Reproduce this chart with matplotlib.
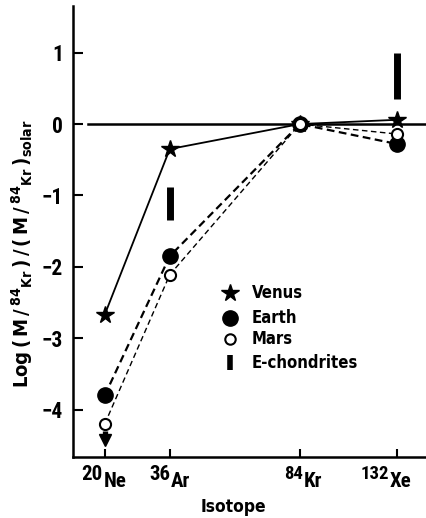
import matplotlib
matplotlib.use("Agg")
import matplotlib.pyplot as plt
from matplotlib.font_manager import FontProperties

TXT = FontProperties(family='DejaVu Sans', weight='bold', stretch='condensed')
TICK = FontProperties(family=['Roboto Condensed', 'DejaVu Sans'], weight='bold')
plt.rcParams['font.family'] = ['DejaVu Sans']
plt.rcParams['font.weight'] = 'bold'
plt.rcParams['font.stretch'] = 'condensed'
plt.rcParams['mathtext.fontset'] = 'custom'
plt.rcParams['mathtext.rm'] = 'DejaVu Sans:bold:condensed'
plt.rcParams['mathtext.bf'] = 'DejaVu Sans:bold:condensed'
plt.rcParams['mathtext.it'] = 'DejaVu Sans:bold:condensed'

# Data
mass_numbers = ['20', '36', '84', '132']
elements = ['Ne', 'Ar', 'Kr', 'Xe']
x_pos = [0, 1, 3, 4.5]
venus = [-2.67, -0.35, 0.0, 0.06]
earth = [-3.80, -1.85, 0.0, -0.28]
mars = [-4.20, -2.11, 0.0, -0.14]
mars_limit_ne = -4.42
echon_x = [1, 4.5]
echon_lo = [-1.34, 0.35]
echon_hi = [-0.88, 1.00]
y_ticks = [1, 0, -1, -2, -3, -4]
legend_labels = ['Venus', 'Earth', 'Mars', 'E-chondrites']

# label style (pixel offsets of split between mass number and element, rel. to tick)
split_px = [-2, 0.5, 3.5, -8.5]
num_size = [15, 15, 13.5, 13.5]

fig = plt.figure(figsize=(4.26, 5.18), dpi=100)
ax = fig.add_axes([0.171, 0.118, 0.829, 0.870])

ax.plot([-0.26, 4.94], [0, 0], color='black', lw=1.8, zorder=1)

ax.plot(x_pos, venus, '-', color='black', lw=1.3, zorder=2)
ax.plot(x_pos, earth, '--', color='black', lw=1.6, dashes=(3.5, 2), zorder=2)
ax.plot(x_pos, mars, '--', color='black', lw=1.0, dashes=(4, 2.5), zorder=2)

ax.plot(x_pos, venus, '*', color='black', ms=13, ls='none', zorder=4)
ax.plot(x_pos, earth, 'o', color='black', ms=11, ls='none', zorder=4)
ax.plot(x_pos, mars, 'o', mfc='white', mec='black', mew=1.5, ms=8, ls='none', zorder=5)

# upper-limit arrow at Ne
ax.vlines(x_pos[0], mars_limit_ne + 0.02, mars_limit_ne + 0.12, color='black', lw=3.8, zorder=5)
ax.plot(x_pos[0], mars_limit_ne, 'v', color='black', ms=8, zorder=5)

ax.vlines(echon_x, echon_lo, echon_hi, color='black', lw=5, zorder=3)

ax.set_xlim(-0.49, 4.94)
ax.set_ylim(-4.66, 1.65)
ax.set_xticks(x_pos)
ax.set_xticklabels([])
ax.set_yticks(y_ticks)
ax.set_yticklabels(['1', '0', '\u22121', '\u22122', '\u22123', '\u22124'])
for lab in ax.get_yticklabels():
    lab.set_fontproperties(TICK)
    lab.set_fontsize(15.5)
ax.tick_params(direction='in', length=7.5, width=1.5, pad=7)
ax.tick_params(axis='x', length=6)
for s in ['top', 'right']:
    ax.spines[s].set_visible(False)
for s in ['left', 'bottom']:
    ax.spines[s].set_linewidth(1.8)

# x tick labels: mass number + lowered element symbol
for x, m, e, sp, ns in zip(x_pos, mass_numbers, elements, split_px, num_size):
    ax.annotate(m, xy=(x, 0), xycoords=('data', 'axes fraction'),
                xytext=(sp * 0.72, -5.8), textcoords='offset points',
                ha='right', va='top', fontproperties=TICK, fontsize=ns)
    ax.annotate(e, xy=(x, 0), xycoords=('data', 'axes fraction'),
                xytext=(sp * 0.72 + 0.6, -10.8), textcoords='offset points',
                ha='left', va='top', fontproperties=TICK, fontsize=15)

ax.text(0.455, -0.111, 'Isotope', transform=ax.transAxes, fontproperties=TXT,
        fontsize=12.5, ha='center', va='center')
ax.text(-0.144, 0.45,
        r'Log$\,$($\,$M$\,$/$\,^{84}$$_{\mathrm{Kr}}$$\,$)$\,$/$\,$($\,$M$\,$/$\,^{84}$$_{\mathrm{Kr}}$$\,$)$_{\mathrm{solar}}$',
        transform=ax.transAxes, fontproperties=TXT, fontsize=14.5, rotation=90,
        ha='center', va='center')

# legend
lx, tx = 1.92, 2.26
ly = [-2.36, -2.71, -3.01, -3.34]
ax.plot(lx, ly[0], '*', color='black', ms=13)
ax.plot(lx, ly[1], 'o', color='black', ms=11)
ax.plot(lx, ly[2], 'o', mfc='white', mec='black', mew=1.5, ms=7.5)
ax.vlines(lx, ly[3] - 0.1, ly[3] + 0.1, color='black', lw=4)
for y, t in zip(ly, legend_labels):
    ax.text(tx, y, t, fontproperties=TXT, fontsize=12, va='center', ha='left')

fig.savefig('out.png', dpi=100)
